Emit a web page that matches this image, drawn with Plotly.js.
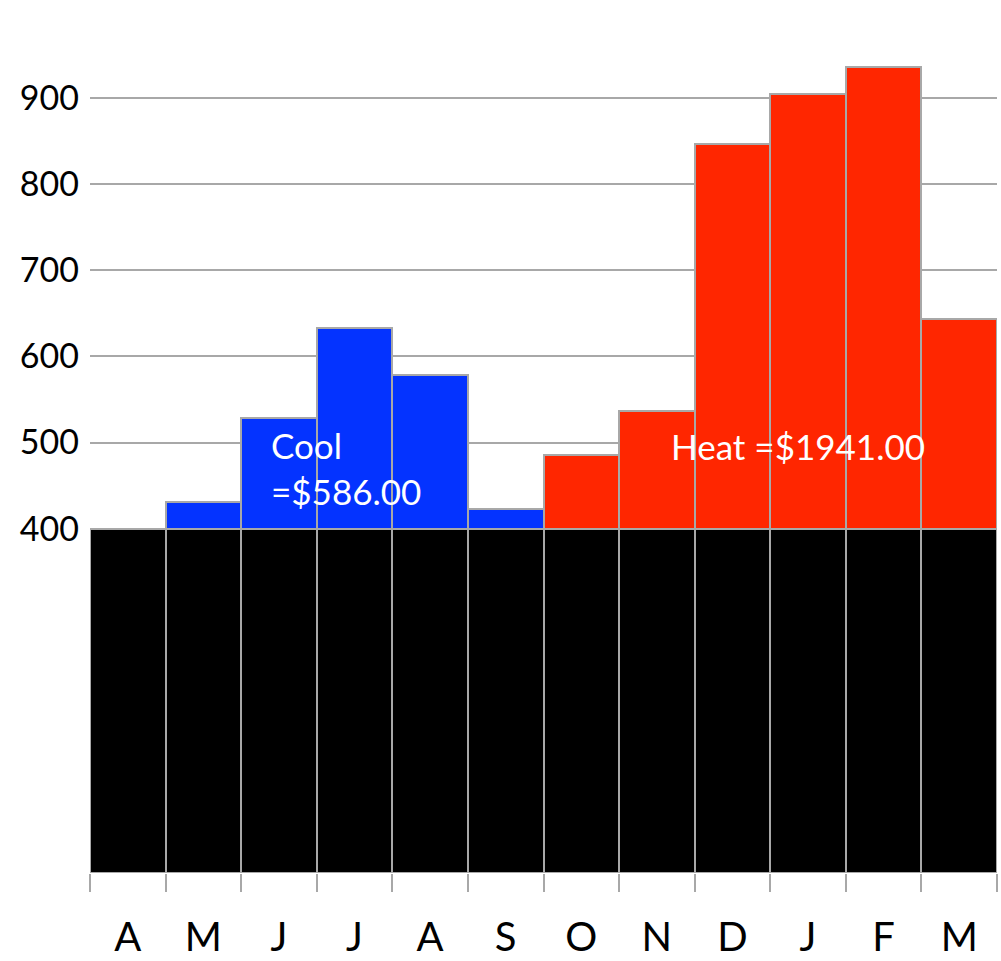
<!DOCTYPE html>
<html><head><meta charset="utf-8">
<script src="https://cdn.plot.ly/plotly-3.0.1.min.js"></script>
<style>body{margin:0;background:#fff}#c{width:1001px;height:961px}</style>
</head><body><div id="c"></div>
<script>
const months = ['A','M','J','J','A','S','O','N','D','J','F','M'];
const baseLoad = [400,400,400,400,400,400,400,400,400,400,400,400];
const cooling = [0,31,128,233,178,23,0,0,0,0,0,0];
const heating = [0,0,0,0,0,0,85,137,447,505,536,244];
const yTickVals = [400,500,600,700,800,900,1000];
const yTickText = ['400','500','600','700','800','900',''];
const coolLabel = 'Cool<br>=$586.00';
const heatLabel = 'Heat =$1941.00';

const idx = months.map((m,i)=>i);
const bounds = months.map((m,i)=>i-0.5).concat([months.length-0.5]);
const outline = {color:'#a8a8a8', width:2};
const traces = [
  {type:'bar', x:idx, y:baseLoad, marker:{color:'#000000', line:outline}, hoverinfo:'skip'},
  {type:'bar', x:idx, y:cooling, marker:{color:'#0433FF', line:outline}, hoverinfo:'skip'},
  {type:'bar', x:idx, y:heating, marker:{color:'#FF2600', line:outline}, hoverinfo:'skip'},
  {type:'scatter', mode:'markers', x:[0], y:[0], xaxis:'x2', marker:{opacity:0}, hoverinfo:'skip'}
];
const xr = [-0.5, months.length-0.5];
const layout = {
  width:1001, height:961,
  margin:{l:90, r:4, t:12, b:88},
  barmode:'stack', bargap:0, showlegend:false,
  paper_bgcolor:'#fff', plot_bgcolor:'#fff',
  font:{family:'Lato, "Open Sans", sans-serif', color:'#000'},
  xaxis:{
    tickmode:'array', tickvals:bounds, ticktext:bounds.map(()=>''),
    range:xr, showgrid:false, zeroline:false,
    ticks:'outside', ticklen:18, tickwidth:2, tickcolor:'#a8a8a8',
    showline:false
  },
  xaxis2:{
    overlaying:'x', anchor:'y', side:'bottom', range:xr,
    tickmode:'array', tickvals:idx, ticktext:months,
    showgrid:false, zeroline:false, showline:false, ticks:'',
    tickfont:{size:40, family:'Lato, sans-serif', color:'#000'}, ticklabelstandoff:37
  },
  yaxis:{
    range:[0,1000], tickmode:'array', tickvals:yTickVals, ticktext:yTickText,
    showgrid:true, gridcolor:'#a8a8a8', gridwidth:2, zeroline:false,
    showline:false, ticks:'', tickfont:{size:34, family:'Lato, sans-serif'}, ticklabelstandoff:10
  },
  annotations:[
    {xref:'paper', yref:'paper', x:(269-90)/907, y:(873-422)/861, xanchor:'left', yanchor:'top',
     align:'left', text:coolLabel, showarrow:false, font:{size:35, color:'#fff'}},
    {xref:'paper', yref:'paper', x:(669-90)/907, y:(873-446)/861, xanchor:'left', yanchor:'middle',
     align:'left', text:heatLabel, showarrow:false, font:{size:35, color:'#fff'}}
  ]
};
Plotly.newPlot('c', traces, layout, {staticPlot:true});
</script></body></html>
